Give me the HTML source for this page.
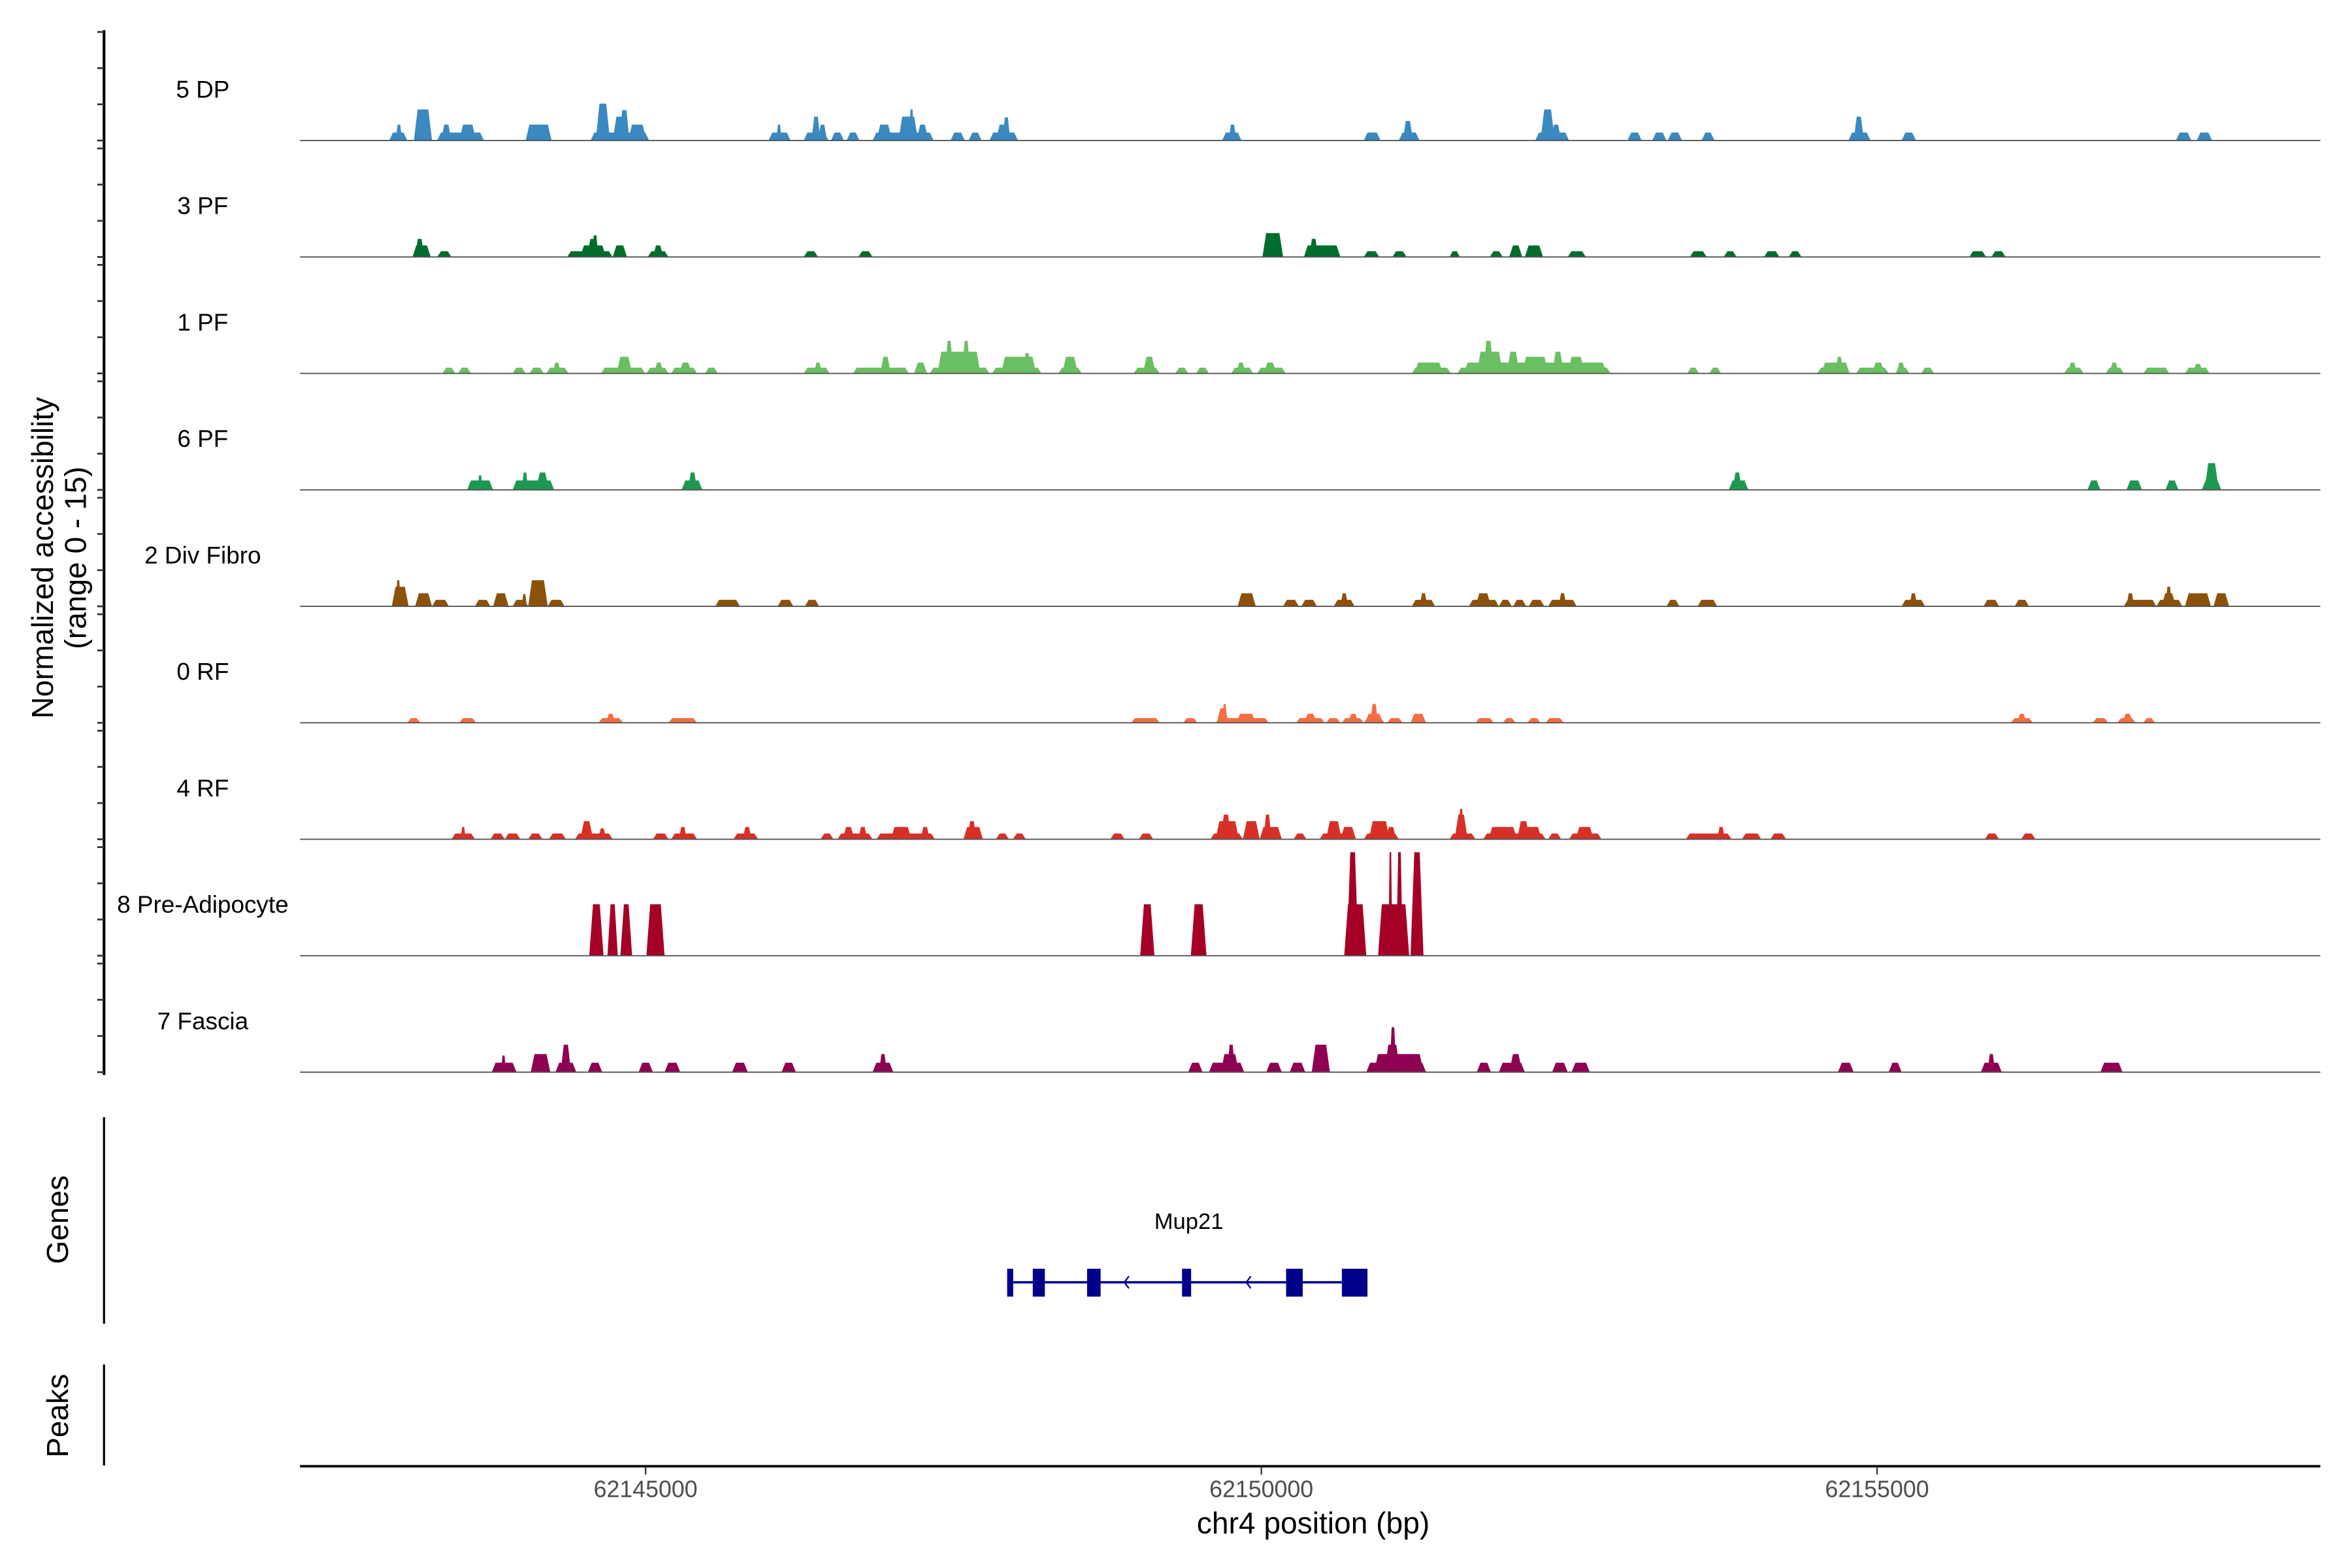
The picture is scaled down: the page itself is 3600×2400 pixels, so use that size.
<!DOCTYPE html>
<html><head><meta charset="utf-8"><style>
html,body{margin:0;padding:0;background:#fff}
svg{display:block}
text{font-family:"Liberation Sans",Arial,sans-serif}
</style></head><body>
<svg id="chart" xmlns="http://www.w3.org/2000/svg" width="3600" height="2400" viewBox="0 0 1560 1040">
<rect x="0" y="0" width="1560" height="1040" fill="#fff"/>
<g id="tracks"></g>
<g id="yaxis"></g>
<text transform="translate(35,370) rotate(-90)" text-anchor="middle" font-size="20">Normalized accessibility</text>
<text transform="translate(57,370) rotate(-90)" text-anchor="middle" font-size="20">(range 0 - 15)</text>
<line x1="69" y1="741" x2="69" y2="878" stroke="#000" stroke-width="1.4"/>
<text transform="translate(45,809) rotate(-90)" text-anchor="middle" font-size="20">Genes</text>
<line x1="69" y1="905" x2="69" y2="972" stroke="#000" stroke-width="1.4"/>
<text transform="translate(45,939) rotate(-90)" text-anchor="middle" font-size="20">Peaks</text>
<g id="gene"></g>
<g id="xaxis"></g>
<text x="871" y="1017" text-anchor="middle" font-size="20">chr4 position (bp)</text>
</svg>
<script>
const REGION_START = 62142200; // peaks below: [start offset, end offset, accessibility]
const OFFSET_UNIT_BP = 0.9917; // bp per offset unit
const trackNames = ["5 DP","3 PF","1 PF","6 PF","2 Div Fibro","0 RF","4 RF","8 Pre-Adipocyte","7 Fascia"];
const trackColors = ["#3a89c0","#006d2c","#6abf62","#1d9850","#8c510a","#f46d43","#d73027","#a50026","#8e0152"];
const peaks5DP = [[724,872,1.1],[777,830,2.2],[926,1075,4.3],[1117,1500,1.1],[1149,1234,2.2],[1298,1436,2.2],[1841,2054,2.2],[2373,2852,1.1],[2415,2532,5.1],[2554,2681,3.3],[2607,2692,4.2],[2681,2830,2.2],[3830,4011,1.1],[3894,3937,2.2],[4118,4320,1.1],[4182,4256,3.3],[4235,4309,2.2],[4341,4448,1.1],[4469,4575,1.1],[4682,5182,1.1],[4714,4841,2.2],[4894,5054,3.3],[4980,5022,4.3],[5043,5139,2.2],[5320,5437,1.1],[5469,5575,1.1],[5639,5873,1.1],[5692,5820,2.2],[5746,5809,3.2],[7544,7703,1.1],[7597,7661,2.2],[8704,8842,1.1],[8991,9161,1.1],[9023,9108,2.7],[10108,10385,1.1],[10151,10268,4.3],[10236,10321,2.2],[10863,10980,1.1],[11066,11183,1.1],[11193,11310,1.1],[11470,11576,1.1],[12672,12853,1.1],[12715,12800,3.3],[13108,13226,1.1],[15354,15481,1.1],[15524,15651,1.1]];
const peaks3PF = [[915,1064,1.6],[936,1011,2.5],[1117,1234,0.8],[2181,2554,0.8],[2288,2500,1.6],[2341,2447,2.5],[2383,2437,3.0],[2554,2671,1.6],[2841,3011,0.8],[2883,2969,1.6],[4118,4235,0.8],[4565,4682,0.8],[7874,8044,3.3],[8214,8512,1.6],[8257,8331,2.5],[8704,8831,0.8],[8938,9055,0.8],[9406,9491,0.8],[9736,9842,0.8],[9895,10002,1.6],[10023,10172,1.6],[10374,10523,0.8],[11374,11512,0.8],[11651,11757,0.8],[11981,12108,0.8],[12183,12289,0.8],[13662,13800,0.8],[13843,13960,0.8]];
const peaks1PF = [[1160,1266,0.8],[1287,1394,0.8],[1734,1841,0.8],[1873,1990,0.8],[2011,2192,0.8],[2064,2128,1.5],[2458,2820,0.8],[2586,2713,2.3],[2830,3011,0.8],[2894,2969,1.5],[3032,3245,0.8],[3096,3203,1.5],[3309,3415,0.8],[4118,4330,0.8],[4203,4267,1.5],[4522,4980,0.8],[4745,4831,2.3],[5022,5128,1.5],[5150,5639,0.8],[5214,5565,3.0],[5277,5341,4.5],[5416,5480,4.5],[5660,6065,0.8],[5735,6022,2.3],[5916,5980,2.8],[6203,6395,0.8],[6235,6363,2.3],[6820,7033,0.8],[6895,7001,2.3],[7161,7267,0.8],[7331,7437,0.8],[7618,7799,0.8],[7661,7735,1.5],[7831,8065,0.8],[7884,7991,1.5],[9097,9416,0.8],[9118,9353,1.5],[9470,10725,0.8],[9523,10693,1.5],[9629,9842,3.0],[9682,9768,4.5],[9874,9980,3.0],[10002,10214,2.3],[10246,10342,3.0],[10374,10512,2.3],[11353,11449,0.8],[11534,11630,0.8],[12417,12683,0.8],[12449,12683,1.5],[12566,12630,2.3],[12736,13002,0.8],[12864,12970,1.5],[13055,13172,0.8],[13066,13140,1.5],[13268,13374,0.8],[14438,14598,0.8],[14470,14545,1.5],[14779,14928,0.8],[14811,14885,1.5],[15088,15300,0.8],[15428,15630,0.8],[15492,15577,1.3]];
const peaks6PF = [[1362,1575,1.3],[1447,1490,2.0],[1734,2075,1.3],[1809,1862,2.4],[1926,2032,2.4],[3118,3288,1.3],[3171,3245,2.4],[11693,11853,1.3],[11725,11800,2.4],[14630,14736,1.3],[14949,15077,1.3],[15268,15375,1.3],[15566,15726,1.3],[15588,15705,3.7]];
const peaks2Div = [[745,883,2.7],[777,819,3.6],[936,1075,1.8],[1075,1213,0.9],[1426,1553,0.9],[1575,1702,1.8],[1734,1862,0.9],[1809,1851,1.7],[1862,2022,3.6],[2022,2160,0.9],[3394,3596,0.9],[3905,4033,0.9],[4128,4245,0.9],[7671,7820,1.8],[8044,8172,0.9],[8193,8320,0.9],[8459,8629,0.9],[8512,8576,1.8],[9097,9289,0.9],[9161,9225,1.8],[9565,9810,0.9],[9619,9746,1.8],[9810,9916,0.9],[9927,10034,0.9],[10055,10182,0.9],[10214,10448,0.9],[10300,10363,1.8],[11183,11289,0.9],[11438,11598,0.9],[13108,13300,0.9],[13172,13236,1.8],[13779,13906,0.9],[14034,14151,0.9],[14928,15194,0.9],[14949,15013,1.8],[15194,15407,0.9],[15236,15354,1.8],[15268,15322,2.7],[15428,15641,1.8],[15662,15790,1.8]];
const peaks0RF = [[872,979,0.65],[1298,1436,0.65],[2437,2639,0.65],[2500,2575,1.25],[3011,3245,0.65],[6799,7033,0.65],[7225,7342,0.65],[7491,7927,0.65],[7501,7597,2.0],[7544,7586,2.6],[7661,7820,1.25],[8150,8384,0.65],[8214,8320,1.25],[8395,8512,0.65],[8523,8704,0.65],[8576,8661,1.25],[8704,8874,0.65],[8714,8863,1.25],[8757,8821,2.6],[8895,9023,0.65],[9087,9214,1.25],[9619,9768,0.65],[9842,9948,0.65],[10044,10151,0.65],[10193,10342,0.65],[14002,14183,0.65],[14055,14130,1.25],[14673,14800,0.65],[14875,15024,0.65],[14917,15002,1.25],[15088,15183,0.65]];
const peaks4RF = [[1234,1426,0.8],[1309,1351,1.7],[1553,1670,0.8],[1670,1798,0.8],[1862,1979,0.8],[2032,2171,0.8],[2245,2554,0.8],[2288,2394,2.5],[2437,2500,1.5],[2883,3011,0.8],[3032,3245,0.8],[3096,3160,1.7],[3543,3745,0.8],[3618,3692,1.7],[4256,4362,0.8],[4394,4682,0.8],[4437,4533,1.7],[4565,4639,1.7],[4714,5192,0.8],[4831,5001,1.7],[5075,5150,1.7],[5426,5586,1.7],[5458,5533,2.5],[5692,5799,0.8],[5831,5937,0.8],[6629,6746,0.8],[6863,6980,0.8],[7448,7714,0.8],[7491,7682,2.5],[7533,7618,3.4],[7714,7852,2.5],[7852,8033,1.7],[7884,7948,3.4],[8129,8235,0.8],[8342,8640,0.8],[8395,8523,2.5],[8512,8640,1.7],[8704,8991,0.8],[8746,8916,2.5],[8884,8970,1.7],[9406,9619,0.8],[9448,9555,3.4],[9480,9523,4.2],[9682,10193,0.8],[9725,9959,1.7],[9959,10065,2.5],[10002,10161,1.7],[10214,10321,0.8],[10385,10651,0.8],[10438,10587,1.7],[11342,11715,0.8],[11598,11661,1.7],[11800,11959,0.8],[12034,12162,0.8],[13789,13906,0.8],[14087,14204,0.8]];
const peaks8Pre = [[2362,2479,7.1],[2511,2596,7.1],[2617,2713,7.1],[2830,2979,7.1],[6873,6990,7.1],[7288,7416,7.1],[8544,8725,7.1],[8565,8661,14.3],[8821,9076,7.1],[8906,8938,14.3],[8970,9023,14.3],[9087,9193,14.3]];
const peaks7Fascia = [[1564,1766,1.3],[1639,1681,2.3],[1883,2043,2.5],[2085,2256,1.3],[2128,2213,3.8],[2351,2468,1.3],[2766,2883,1.3],[2979,3107,1.3],[3532,3660,1.3],[3937,4054,1.3],[4682,4852,1.3],[4735,4799,2.5],[7267,7384,1.3],[7437,7725,1.3],[7533,7682,2.5],[7586,7650,3.8],[7906,8033,1.3],[8097,8225,1.3],[8278,8427,3.8],[8725,9214,1.3],[8789,9193,2.5],[8874,9001,3.8],[8916,8970,6.2],[9629,9746,1.3],[9810,10023,1.3],[9895,10002,2.5],[10246,10374,1.3],[10406,10555,1.3],[12587,12715,1.3],[13002,13108,1.3],[13757,13928,1.3],[13811,13874,2.5],[14736,14917,1.3]];
const allPeaks = [peaks5DP,peaks3PF,peaks1PF,peaks6PF,peaks2Div,peaks0RF,peaks4RF,peaks8Pre,peaks7Fascia];
const yTicks = [0,5,10,15];
const xTicks = [62145000,62150000,62155000];
const geneName = "Mup21";
const exonStarts = [62147936,62148144,62148585,62149356,62150201,62150654];
const exonEnds =   [62147985,62148242,62148695,62149430,62150336,62150862];
const strandArrows = [62148900,62149890];

const NS="http://www.w3.org/2000/svg";
function mk(tag,attrs,parent){const e=document.createElementNS(NS,tag);for(const k in attrs)e.setAttribute(k,attrs[k]);parent.appendChild(e);return e;}
const X0=199, X1=1539;
function xs(bp){return 428.2+(bp-62145000)*408.4/5000;}
function offBp(o){return REGION_START+o*OFFSET_UNIT_BP;}
function baseY(i){return 93.2+77.24*i;}
function ys(v,i){return baseY(i)-v*72/15;}
const tracks=document.getElementById('tracks');
const yaxis=document.getElementById('yaxis');
const ya=mk('line',{x1:69,y1:20,x2:69,y2:713,stroke:'#000','stroke-width':1.8},yaxis);


allPeaks.forEach((pk,i)=>{
  const g=mk('g',{},tracks);
  
  
  pk.forEach(p=>{
    const a=xs(offBp(p[0])), b=xs(offBp(p[1]));
    const r=Math.min((b-a)*0.3,2.5);
    const y0=baseY(i), y1=ys(p[2],i);
    const poly=mk('polygon',{points:`${a},${y0} ${a+r},${y1} ${b-r},${y1} ${b},${y0}`,fill:trackColors[i]},g);
    
    
  });
  const bl=mk('line',{x1:X0,y1:baseY(i),x2:X1,y2:baseY(i),stroke:'#555','stroke-width':0.8},g);
  
  
  const t=mk('text',{x:134.5,y:baseY(i)-28.5,'text-anchor':'middle','font-size':16,fill:'#000'},g);
  t.textContent=trackNames[i];
  
  
  yTicks.forEach(v=>{
    const tk=mk('line',{x1:64.5,y1:ys(v,i),x2:69,y2:ys(v,i),stroke:'#333','stroke-width':1.2},yaxis);
    
    
  });
});
const gene=document.getElementById('gene');
const gy=850.5;
const gl=mk('line',{x1:xs(exonStarts[0]),y1:gy,x2:xs(exonStarts[exonStarts.length-1]),y2:gy,stroke:'#00008b','stroke-width':1.6},gene);


exonStarts.forEach((s,k)=>{
  const r=mk('rect',{x:xs(s),y:841.5,width:Math.max(xs(exonEnds[k])-xs(s),1.5),height:18.5,fill:'#00008b'},gene);
  
  
});
strandArrows.forEach(bp=>{
  const x=xs(bp);
  const ar=mk('polyline',{points:`${x+2},${gy-4} ${x-1},${gy} ${x+2},${gy+4}`,fill:'none',stroke:'#00008b','stroke-width':1},gene);
  
  
});
const gt=mk('text',{x:(xs(exonStarts[0])+xs(exonEnds[exonEnds.length-1]))/2+1,y:815,'text-anchor':'middle','font-size':15,fill:'#000'},gene);
gt.textContent=geneName;


const xa=document.getElementById('xaxis');
const xl=mk('line',{x1:X0,y1:972.5,x2:X1,y2:972.5,stroke:'#000','stroke-width':1.6},xa);


xTicks.forEach(v=>{
  const tk=mk('line',{x1:xs(v),y1:973,x2:xs(v),y2:978,stroke:'#333','stroke-width':1},xa);
  
  
  const tl=mk('text',{x:xs(v),y:993,'text-anchor':'middle','font-size':15.5,fill:'#4d4d4d'},xa);
  tl.textContent=v;
  
  
});
</script>
</body></html>
